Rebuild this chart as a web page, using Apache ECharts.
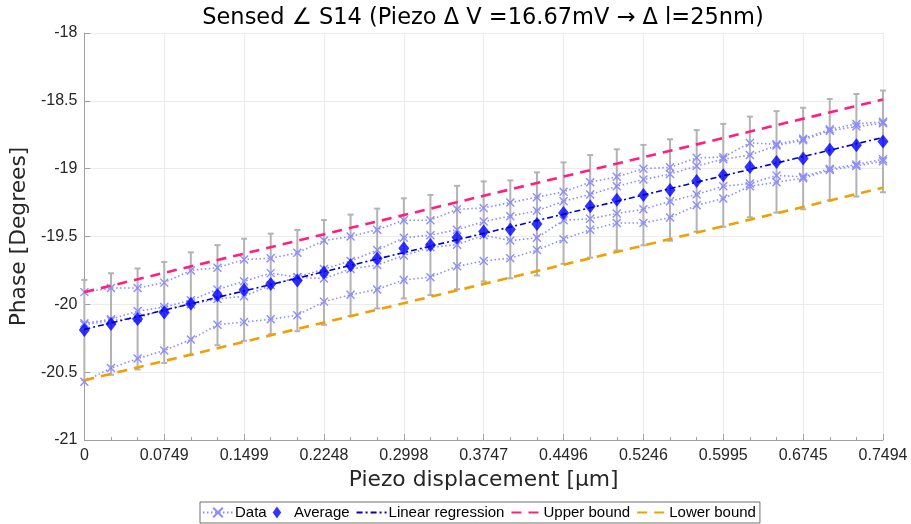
<!DOCTYPE html>
<html>
<head>
<meta charset="utf-8">
<title>Sensed phase vs piezo displacement</title>
<script src="https://cdn.jsdelivr.net/npm/echarts@6/dist/echarts.min.js"></script>
<style>
  html, body { margin: 0; padding: 0; background: #fff; }
  #chart { width: 911px; height: 524px; }
</style>
</head>
<body>
<div id="chart"></div>
<script>
// Piezo displacement for each step [µm]
const displacement = [0, 0.02498, 0.04996, 0.07494, 0.09992, 0.1249, 0.14988, 0.17486, 0.19984, 0.22482,
  0.2498, 0.27478, 0.29976, 0.32474, 0.34972, 0.3747, 0.39968, 0.42466, 0.44964, 0.47462,
  0.4996, 0.52458, 0.54956, 0.57454, 0.59952, 0.6245, 0.64948, 0.67446, 0.69944, 0.72442, 0.7494];

// Measured phase traces [deg]
const traceA = [-19.91, -19.88, -19.88, -19.84, -19.75, -19.73, -19.67, -19.66, -19.62, -19.53,
  -19.50, -19.45, -19.38, -19.38, -19.30, -19.29, -19.25, -19.21, -19.17, -19.10,
  -19.06, -19.00, -18.99, -18.92, -18.915, -18.81, -18.82, -18.78, -18.71, -18.67, -18.655];
const traceB = [-20.14, -20.11, -20.05, -20.02, -19.97, -19.89, -19.83, -19.77, -19.80, -19.74,
  -19.68, -19.60, -19.51, -19.49, -19.45, -19.39, -19.35, -19.31, -19.24, -19.19,
  -19.13, -19.08, -19.04, -18.98, -18.93, -18.90, -18.83, -18.79, -18.72, -18.69, -18.665];
const traceC = [-20.15, -20.12, -20.10, -20.04, -20.00, -19.96, -19.94, -19.86, -19.80, -19.81,
  -19.74, -19.71, -19.64, -19.58, -19.56, -19.49, -19.53, -19.51, -19.38, -19.37,
  -19.33, -19.30, -19.24, -19.19, -19.13, -19.11, -19.05, -19.06, -19.00, -18.97, -18.93];
const traceD = [-20.57, -20.47, -20.40, -20.34, -20.26, -20.15, -20.13, -20.11, -20.08, -19.98,
  -19.93, -19.89, -19.82, -19.80, -19.72, -19.68, -19.66, -19.60, -19.52, -19.45,
  -19.40, -19.40, -19.36, -19.27, -19.22, -19.13, -19.10, -19.07, -19.01, -18.98, -18.945];

// Average phase and its error half-width [deg]
const avgPhase = [-20.19, -20.145, -20.1075, -20.06, -19.995, -19.9325, -19.8925, -19.85, -19.825, -19.765,
  -19.7125, -19.6625, -19.5875, -19.5625, -19.5075, -19.4625, -19.4475, -19.4075, -19.3275, -19.2775,
  -19.23, -19.195, -19.1575, -19.09, -19.049, -18.9875, -18.95, -18.925, -18.86, -18.8275, -18.799];
const errHalf = [0.370, 0.374, 0.372, 0.372, 0.378, 0.369, 0.376, 0.371, 0.373, 0.386,
  0.374, 0.368, 0.369, 0.369, 0.381, 0.369, 0.361, 0.380, 0.374, 0.378,
  0.373, 0.370, 0.374, 0.374, 0.379, 0.371, 0.374, 0.374, 0.374, 0.378, 0.375];

// Tolerance band end values [deg] at the first and last displacement
const upperBound = [-19.91, -18.49];
const lowerBound = [-20.56, -19.14];

// Axis tick labels
const xTickLabels = ['0', '0.0749', '0.1499', '0.2248', '0.2998', '0.3747', '0.4496', '0.5246', '0.5995', '0.6745', '0.7494'];
const yTickLabels = ['-21', '-20.5', '-20', '-19.5', '-19', '-18.5', '-18'];

const xMax = displacement[displacement.length - 1];
const xStep = xMax / 10;

// Least-squares fit of the averages
function linearFit(xs, ys) {
  const n = xs.length;
  let sx = 0, sy = 0, sxx = 0, sxy = 0;
  for (let i = 0; i < n; i++) { sx += xs[i]; sy += ys[i]; sxx += xs[i] * xs[i]; sxy += xs[i] * ys[i]; }
  const slope = (n * sxy - sx * sy) / (n * sxx - sx * sx);
  const icpt = (sy - slope * sx) / n;
  return [icpt, slope];
}
const [icpt, slope] = linearFit(displacement, avgPhase);
const x0 = displacement[0];
const regressionLine = [[x0, icpt + slope * x0], [xMax, icpt + slope * xMax]];

const dataColor = '#8c8cff';
const labelColor = '#262626';
const axisGray = '#a0a0a0';
const crossPath = 'path://M0,0L10,10M10,0L0,10';
const diamondPath = 'path://M5,0L10,7L5,14L0,7Z';
const noMarker = { color: 'rgba(0,0,0,0)', borderWidth: 0, opacity: 0 };

function traceSeries(values) {
  return {
    name: 'Data',
    type: 'line',
    data: displacement.map((x, i) => [x, values[i]]),
    symbol: crossPath,
    symbolSize: 8,
    showAllSymbol: true,
    itemStyle: { color: 'rgba(0,0,0,0)', borderColor: dataColor, borderWidth: 1.4 },
    lineStyle: { color: dataColor, width: 1.6, type: [1.5, 2.5] },
    emphasis: { disabled: true },
    z: 3
  };
}

const chart = echarts.init(document.getElementById('chart'), null, { renderer: 'canvas' });

chart.setOption({
  animation: false,
  backgroundColor: '#ffffff',
  title: {
    text: 'Sensed \u2220 S14 (Piezo \u0394 V =16.67mV \u2192 \u0394 l=25nm)',
    left: 478,
    top: 2,
    textAlign: 'center',
    textStyle: { fontFamily: 'DejaVu Sans', fontWeight: 'normal', fontSize: 22.5, color: '#000' }
  },
  grid: { left: 82, right: 28, top: 33, bottom: 84, containLabel: false },
  legend: {
    bottom: 1,
    left: 200,
    orient: 'horizontal',
    padding: [3, 4, 3, 2],
    itemGap: 6,
    itemWidth: 30,
    itemHeight: 12,
    symbolKeepAspect: true,
    borderColor: '#6f6f6f',
    borderWidth: 1,
    backgroundColor: '#fff',
    textStyle: { fontFamily: 'Liberation Sans', fontSize: 15, color: '#000', padding: [0, 0, 0, -3] },
    data: [
      { name: 'Data' },
      { name: 'Average', icon: diamondPath },
      { name: 'Linear regression', itemStyle: noMarker },
      { name: 'Upper bound', itemStyle: noMarker },
      { name: 'Lower bound', itemStyle: noMarker }
    ]
  },
  xAxis: {
    type: 'value',
    min: 0,
    max: xMax,
    interval: xStep,
    name: 'Piezo displacement [\u00b5m]',
    nameLocation: 'middle',
    nameGap: 27,
    nameTextStyle: { fontFamily: 'DejaVu Sans', fontSize: 21.8, color: labelColor },
    axisLine: { show: true, onZero: false, lineStyle: { color: axisGray, width: 1 } },
    axisTick: { show: true, inside: true, length: 6, lineStyle: { color: axisGray } },
    minorTick: { show: true, splitNumber: 3, length: 3, lineStyle: { color: axisGray } },
    axisLabel: {
      margin: 8,
      fontFamily: 'Liberation Sans', fontSize: 16, color: labelColor,
      formatter: v => xTickLabels[Math.round(v / xStep)] ?? ''
    },
    splitLine: { show: true, lineStyle: { color: '#ebebeb', width: 1 } }
  },
  yAxis: {
    type: 'value',
    min: -21,
    max: -18,
    interval: 0.5,
    name: 'Phase [Degrees]',
    nameLocation: 'middle',
    nameGap: 46,
    nameTextStyle: { fontFamily: 'DejaVu Sans', fontSize: 21.8, color: labelColor },
    axisLine: { show: true, onZero: false, lineStyle: { color: axisGray, width: 1 } },
    axisTick: { show: true, inside: true, length: 6, lineStyle: { color: axisGray } },
    axisLabel: {
      margin: 7,
      fontFamily: 'Liberation Sans', fontSize: 16, color: labelColor,
      formatter: v => yTickLabels[Math.round((v + 21) / 0.5)] ?? ''
    },
    splitLine: { show: true, lineStyle: { color: '#ebebeb', width: 1 } }
  },
  series: [
    {
      name: 'Error',
      type: 'custom',
      clip: false,
      z: 1,
      silent: true,
      data: displacement.map((x, i) => [x, avgPhase[i] - errHalf[i], avgPhase[i] + errHalf[i]]),
      encode: { x: 0, y: [1, 2] },
      renderItem: function (params, api) {
        const x = api.value(0);
        const lo = api.coord([x, api.value(1)]);
        const hi = api.coord([x, api.value(2)]);
        const cap = 3;
        const style = { stroke: '#b3b3b3', lineWidth: 2 };
        return {
          type: 'group',
          children: [
            { type: 'line', shape: { x1: lo[0], y1: lo[1], x2: hi[0], y2: hi[1] }, style: style },
            { type: 'line', shape: { x1: lo[0] - cap, y1: lo[1], x2: lo[0] + cap, y2: lo[1] }, style: style },
            { type: 'line', shape: { x1: hi[0] - cap, y1: hi[1], x2: hi[0] + cap, y2: hi[1] }, style: style }
          ]
        };
      }
    },
    traceSeries(traceA),
    traceSeries(traceB),
    traceSeries(traceC),
    traceSeries(traceD),
    {
      name: 'Average',
      type: 'scatter',
      data: displacement.map((x, i) => [x, avgPhase[i]]),
      symbol: 'diamond',
      symbolSize: [11, 14],
      itemStyle: { color: '#0000ff' },
      emphasis: { disabled: true },
      z: 5
    },
    {
      name: 'Linear regression',
      type: 'line',
      data: regressionLine,
      showSymbol: false,
      symbol: 'none',
      itemStyle: { color: '#0000ff' },
      lineStyle: { color: '#0000cc', width: 1.6, type: [6, 3, 2, 3] },
      emphasis: { disabled: true },
      z: 6
    },
    {
      name: 'Upper bound',
      type: 'line',
      data: [[x0, upperBound[0]], [xMax, upperBound[1]]],
      showSymbol: false,
      symbol: 'none',
      itemStyle: { color: '#ff1f7e' },
      lineStyle: { color: '#ff1f7e', width: 2.6, type: [10, 7] },
      emphasis: { disabled: true },
      z: 7
    },
    {
      name: 'Lower bound',
      type: 'line',
      data: [[x0, lowerBound[0]], [xMax, lowerBound[1]]],
      showSymbol: false,
      symbol: 'none',
      itemStyle: { color: '#f0a000' },
      lineStyle: { color: '#f0a000', width: 2.6, type: [10, 7] },
      emphasis: { disabled: true },
      z: 7
    }
  ]
});
</script>
</body>
</html>
